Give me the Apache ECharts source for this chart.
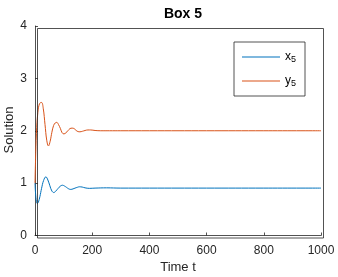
<!DOCTYPE html>
<html><head><meta charset="utf-8">
<script src="https://cdn.jsdelivr.net/npm/echarts@6/dist/echarts.min.js"></script>
<style>html,body{margin:0;padding:0;background:#fff}#c{width:338px;height:277px}</style>
</head><body><div id="c"></div>
<script>
var title = "Box 5";
var xLabel = "Time t";
var yLabel = "Solution";
var seriesNames = ["x5", "y5"];
var xTicks = [0, 200, 400, 600, 800, 1000];
var yTicks = [0, 1, 2, 3, 4];
var x5T = [0, 2, 5, 8, 12, 17, 23, 30, 38, 45, 52, 59, 66, 73, 81, 88, 96, 103, 110, 118, 125, 133, 140, 148, 155, 165, 175, 190, 210, 250, 300, 400, 600, 800, 1000];
var x5V = [1.0, 0.8, 0.65, 0.61, 0.64, 0.74, 0.9, 1.05, 1.12, 1.06, 0.95, 0.85, 0.82, 0.85, 0.9, 0.94, 0.96, 0.945, 0.92, 0.89, 0.88, 0.89, 0.905, 0.92, 0.93, 0.925, 0.91, 0.9, 0.905, 0.91, 0.905, 0.905, 0.905, 0.905, 0.905];
var y5T = [0, 2, 5, 10, 16, 23, 29, 35, 41, 47, 53, 59, 65, 71, 76, 82, 89, 95, 101, 108, 115, 122, 130, 137, 143, 150, 157, 166, 175, 185, 195, 210, 230, 260, 300, 400, 600, 800, 1000];
var y5V = [1.0, 1.45, 1.95, 2.35, 2.52, 2.54, 2.42, 2.12, 1.82, 1.71, 1.8, 1.97, 2.1, 2.15, 2.16, 2.12, 2.04, 1.96, 1.94, 1.96, 2.0, 2.04, 2.05, 2.04, 2.01, 1.985, 1.98, 1.99, 2.005, 2.015, 2.015, 2.005, 2.0, 2.0, 2.0, 2.0, 2.0, 2.0, 2.0];

function pairs(t, v) { return t.map(function (x, i) { return [x, v[i]]; }); }

var axisColor = '#262626';
var chart = echarts.init(document.getElementById('c'));
chart.setOption({
  animation: false,
  backgroundColor: '#fff',
  title: { text: title, left: 178, textAlign: 'center', top: 2,
    textStyle: { fontFamily: 'Liberation Sans', fontSize: 14, fontWeight: 'bold', color: '#000' } },
  grid: { left: 35, right: 17, top: 26, bottom: 41.5, containLabel: false, outerBoundsMode: 'none' },
  legend: {
    orient: 'vertical', left: 234, top: 42,
    padding: [8, 9, 8, 8], itemGap: 10,
    borderColor: axisColor, borderWidth: 0.8, backgroundColor: '#fff',
    itemWidth: 38, itemHeight: 14, icon: 'path://M0,6.5 L38,6.5 L38,7.5 L0,7.5 Z',
    textStyle: { fontFamily: 'Liberation Sans', fontSize: 12, color: '#000', lineHeight: 14,
      rich: { b: { fontSize: 12, lineHeight: 14, fontFamily: 'Liberation Sans' }, s: { fontSize: 9, lineHeight: 14, verticalAlign: 'bottom', padding: [5, 0, 0, 0], fontFamily: 'Liberation Sans' } } },
    formatter: function (n) { return '{b|' + n.charAt(0) + '}{s|' + n.slice(1) + '}'; },
    data: seriesNames
  },
  xAxis: {
    type: 'value', min: xTicks[0], max: xTicks[xTicks.length - 1], interval: 200,
    name: xLabel, nameLocation: 'middle', nameGap: 25,
    nameTextStyle: { fontFamily: 'Liberation Sans', fontSize: 13, color: axisColor },
    axisLine: { show: true, onZero: false, lineStyle: { color: axisColor, width: 0.8 } },
    axisTick: { show: true, inside: true, length: 3, lineStyle: { color: axisColor, width: 0.8 } },
    axisLabel: { fontFamily: 'Liberation Sans', fontSize: 12, color: axisColor, margin: 9,
      formatter: function (v) { return String(v); } },
    splitLine: { show: false }
  },
  yAxis: {
    type: 'value', min: yTicks[0], max: yTicks[yTicks.length - 1], interval: 1,
    axisLine: { show: true, onZero: false, lineStyle: { color: axisColor, width: 0.8 } },
    axisTick: { show: true, inside: true, length: 3, lineStyle: { color: axisColor, width: 0.8 } },
    axisLabel: { fontFamily: 'Liberation Sans', fontSize: 12, color: axisColor, margin: 8,
      formatter: function (v) { return String(v); } },
    splitLine: { show: false }
  },
  graphic: [{
    type: 'rect', left: 35, top: 26, z: 100, silent: true,
    shape: { width: 286, height: 209.5 },
    style: { fill: 'none', stroke: axisColor, lineWidth: 0.8 }
  }, {
    type: 'text', x: 9, y: 130, rotation: Math.PI / 2, silent: true,
    style: { text: yLabel, fill: axisColor, font: '13px "Liberation Sans"', align: 'center', verticalAlign: 'middle' }
  }],
  series: [
    { name: seriesNames[0], type: 'line', data: pairs(x5T, x5V), showSymbol: false,
      smooth: 0.4, color: '#0072BD', lineStyle: { width: 1, color: '#0072BD' } },
    { name: seriesNames[1], type: 'line', data: pairs(y5T, y5V), showSymbol: false,
      smooth: 0.4, color: '#D95319', lineStyle: { width: 1, color: '#D95319' } }
  ]
});
</script></body></html>
